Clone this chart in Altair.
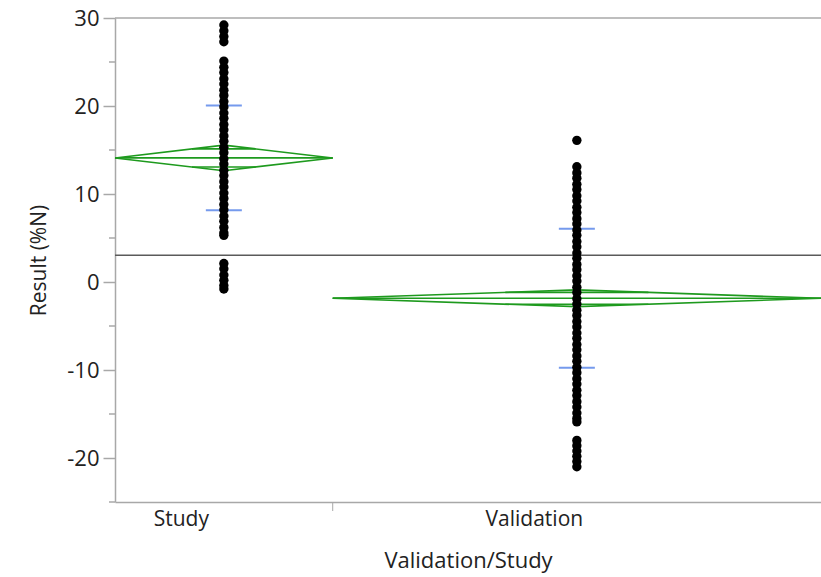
import math
import altair as alt
import pandas as pd

# ---- data ----
categories = ["Study", "Validation"]
counts = [70, 157]                 # group sizes (set the section widths)
means = [14.1, -1.85]              # group means
ci_half = [1.45, 0.95]             # 95% CI half-heights of means diamonds
sd = [5.95, 7.9]                   # std dev (blue marks at mean +/- sd)
grand_mean = 3.05

study_values = [
    29.2, 28.55, 27.9, 27.3,
    25.1, 24.4, 23.8, 23.1, 22.5, 21.8, 21.2, 20.5, 19.9, 19.2, 18.6, 17.9,
    17.3, 16.6, 16.0, 15.3, 14.7, 14.0, 13.4, 12.7, 12.1, 11.4, 10.8, 10.1,
    9.5, 8.8, 8.2, 7.5, 6.9, 6.2, 5.6, 5.3,
    2.1, 1.5, 0.8, 0.2, -0.4, -0.8,
]
validation_values = [
    16.1,
    13.1, 12.4, 11.8, 11.1, 10.5, 9.8, 9.2, 8.5, 7.9, 7.2, 6.6, 5.9, 5.3, 4.6,
    4.0, 3.3, 2.7, 2.0, 1.4, 0.7, 0.1, -0.6, -1.2, -1.9, -2.5, -3.2, -3.8,
    -4.5, -5.1, -5.8, -6.4, -7.1, -7.7, -8.4, -9.0, -9.7, -10.3, -11.0, -11.6,
    -12.3, -12.9, -13.6, -14.2, -14.9, -15.5, -15.9,
    -18.0, -18.6, -19.2, -19.8, -20.4, -21.0,
]
y_major = [-20, -10, 0, 10, 20, 30]
y_minor = [-25, -15, -5, 5, 15, 25]
y_domain = [-25, 30]

# ---- layout / style ----
W, H = 706, 484
GREEN = "#1e9a1e"
BLUE = "#3a6fe6"
AXIS_GRAY = "#a8a8a8"
TEXT = "#222222"
FONT = "Open Sans"

total = sum(counts)
x0s = [0, counts[0]]
x1s = [counts[0], total]
xcs = [(a + b) / 2 for a, b in zip(x0s, x1s)]

xscale = alt.Scale(domain=[0, total], nice=False, zero=False)
yscale = alt.Scale(domain=y_domain, nice=False, zero=False)

label_expr = f"datum.value < {x1s[0]} ? '{categories[0]}' : '{categories[1]}'"

xaxis = alt.Axis(
    values=xcs,
    labelExpr=label_expr,
    ticks=False,
    grid=False,
    labelOffset=-43,
    labelPadding=6,
    labelFontSize=21,
    labelColor=TEXT,
    labelFont=FONT,
    domainColor=AXIS_GRAY,
    domainWidth=1.5,
    title="Validation/Study",
    titleFont=FONT,
    titleFontSize=22,
    titleFontWeight="normal",
    titleColor=TEXT,
    titlePadding=21,
)
yaxis = alt.Axis(
    values=y_major,
    labelExpr="toString(datum.value)",
    grid=False,
    tickSize=12,
    tickWidth=1.5,
    tickColor=AXIS_GRAY,
    domainColor=AXIS_GRAY,
    domainWidth=1.5,
    labelPadding=4,
    labelFontSize=22,
    labelFont=FONT,
    labelColor=TEXT,
    title="Result (%N)",
    titleFont=FONT,
    titleFontSize=21,
    titleFontWeight="normal",
    titleColor=TEXT,
    titlePadding=17,
)

pts = pd.DataFrame(
    [{"cat": categories[0], "x": xcs[0], "v": v} for v in study_values]
    + [{"cat": categories[1], "x": xcs[1], "v": v} for v in validation_values]
)

# diamond segments, mean line, overlap marks
segs = []
k = 1 / math.sqrt(2)
for x0, x1, xc, m, h in zip(x0s, x1s, xcs, means, ci_half):
    segs += [
        {"xa": x0, "ya": m, "xb": xc, "yb": m + h},
        {"xa": xc, "ya": m + h, "xb": x1, "yb": m},
        {"xa": x1, "ya": m, "xb": xc, "yb": m - h},
        {"xa": xc, "ya": m - h, "xb": x0, "yb": m},
        {"xa": x0, "ya": m, "xb": x1, "yb": m},
    ]
    half = (x1 - x0) / 2
    span = (1 - k) * half
    for s in (1, -1):
        yo = m + s * h * k
        segs.append({"xa": xc - span, "ya": yo, "xb": xc + span, "yb": yo})
segs = pd.DataFrame(segs)

sd_df = pd.DataFrame(
    [{"x": xc, "y": m + s * d} for xc, m, d in zip(xcs, means, sd) for s in (1, -1)]
)

gm_df = pd.DataFrame({"y": [grand_mean]})
minor_df = pd.DataFrame({"y": y_minor})
div_df = pd.DataFrame({"x": [x1s[0]]})

diamonds = alt.Chart(segs).mark_rule(color=GREEN, strokeWidth=1.6).encode(
    x=alt.X("xa:Q", scale=xscale, axis=xaxis),
    y=alt.Y("ya:Q", scale=yscale, axis=yaxis),
    x2="xb:Q",
    y2="yb:Q",
)

grand = alt.Chart(gm_df).mark_rule(color="#5a5a5a", strokeWidth=1.5).encode(
    y=alt.Y("y:Q", scale=yscale, axis=yaxis),
    x=alt.value(0),
    x2=alt.value(W),
)

top_border = alt.Chart(gm_df).mark_rule(color=AXIS_GRAY, strokeWidth=1.5).encode(
    y=alt.value(0), x=alt.value(0), x2=alt.value(W)
)

minor = alt.Chart(minor_df).mark_rule(color=AXIS_GRAY, strokeWidth=1.5).encode(
    y=alt.Y("y:Q", scale=yscale, axis=yaxis),
    x=alt.value(-6),
    x2=alt.value(0),
)

divider = alt.Chart(div_df).mark_rule(color=AXIS_GRAY, strokeWidth=1).encode(
    x=alt.X("x:Q", scale=xscale, axis=xaxis),
    y=alt.value(H),
    y2=alt.value(H + 9),
)

sd_marks = alt.Chart(sd_df).mark_tick(
    orient="horizontal", size=36, thickness=2, color=BLUE
).encode(
    x=alt.X("x:Q", scale=xscale, axis=xaxis),
    y=alt.Y("y:Q", scale=yscale, axis=yaxis),
)

points = alt.Chart(pts).mark_circle(size=88, color="black", opacity=1).encode(
    x=alt.X("x:Q", scale=xscale, axis=xaxis),
    y=alt.Y("v:Q", scale=yscale, axis=yaxis),
)

chart = (
    alt.layer(diamonds, grand, top_border, minor, divider, sd_marks, points)
    .properties(
        width=W,
        height=H,
        autosize=alt.AutoSizeParams(type="none"),
        padding={"left": 115, "top": 18, "right": 0, "bottom": 75},
        background="white",
    )
    .configure_view(stroke=None)
)

chart.save("out.html", embed_options={"renderer": "svg", "actions": False})
